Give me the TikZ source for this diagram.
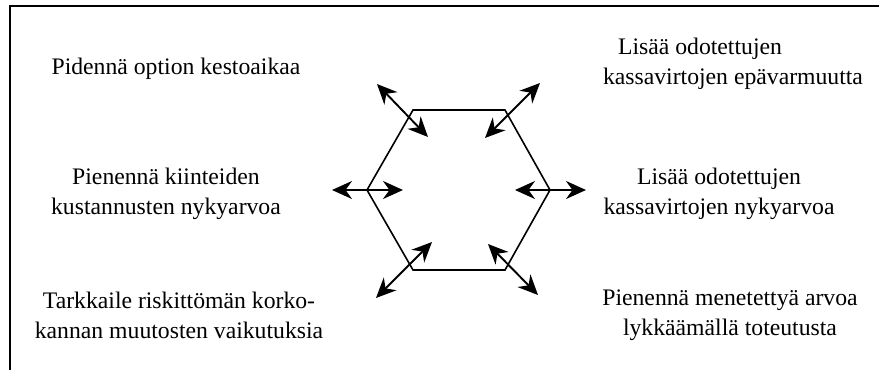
\documentclass[tikz,border=0pt]{standalone}
\usepackage{fontspec}
\setmainfont{Liberation Serif}
\usetikzlibrary{arrows.meta}
\begin{document}
\begin{tikzpicture}[x=1pt,y=-1pt,
  label/.style={align=center,inner sep=0pt,font=\fontsize{23.7}{30}\selectfont},
  edge/.style={line width=1.6pt},
  dblarrow/.style={line width=1.9pt,{Stealth[length=20pt,width=18pt,inset=6.5pt]}-{Stealth[length=20pt,width=18pt,inset=6.5pt]}}]
\useasboundingbox (0,0) rectangle (879,370);
% frame
\draw[line width=2pt] (10,370) -- (10,6) -- (879,6);
% hexagon corners
\coordinate (h1) at (413,110);
\coordinate (h2) at (505,110);
\coordinate (h3) at (550,190);
\coordinate (h4) at (505,270);
\coordinate (h5) at (413,270);
\coordinate (h6) at (367,190);
\draw[edge,line join=miter] (h1) -- (h2) -- (h3) -- (h4) -- (h5) -- (h6) -- cycle;
% arrow ends
\coordinate (tlA) at (377,84);  \coordinate (tlB) at (428,137);
\coordinate (trA) at (540,83);  \coordinate (trB) at (485,138);
\coordinate (lA) at (332,190);  \coordinate (lB) at (403,190);
\coordinate (rA) at (586,190);  \coordinate (rB) at (515,190);
\coordinate (blA) at (376,298); \coordinate (blB) at (432,242);
\coordinate (brA) at (538,295); \coordinate (brB) at (488,244);
\draw[dblarrow] (tlA) -- (tlB);
\draw[dblarrow] (trA) -- (trB);
\draw[dblarrow] (lA) -- (lB);
\draw[dblarrow] (rA) -- (rB);
\draw[dblarrow] (blA) -- (blB);
\draw[dblarrow] (brA) -- (brB);
% labels
\node[label] (t1) at (176,69) {Pidennä option kestoaikaa};
\node[label] (t2) at (733,64) {Lisää odotettujen\hspace*{66pt}\\kassavirtojen epävarmuutta};
\node[label] (t3) at (166,194) {Pienennä kiinteiden\\kustannusten nykyarvoa};
\node[label] (t4) at (719,194) {Lisää odotettujen\\kassavirtojen nykyarvoa};
\node[label] (t5) at (179,315) {Tarkkaile riskittömän korko-\\kannan muutosten vaikutuksia};
\node[label] (t6) at (730,315) {Pienennä menetettyä arvoa\\lykkäämällä toteutusta};
\end{tikzpicture}
\end{document}
